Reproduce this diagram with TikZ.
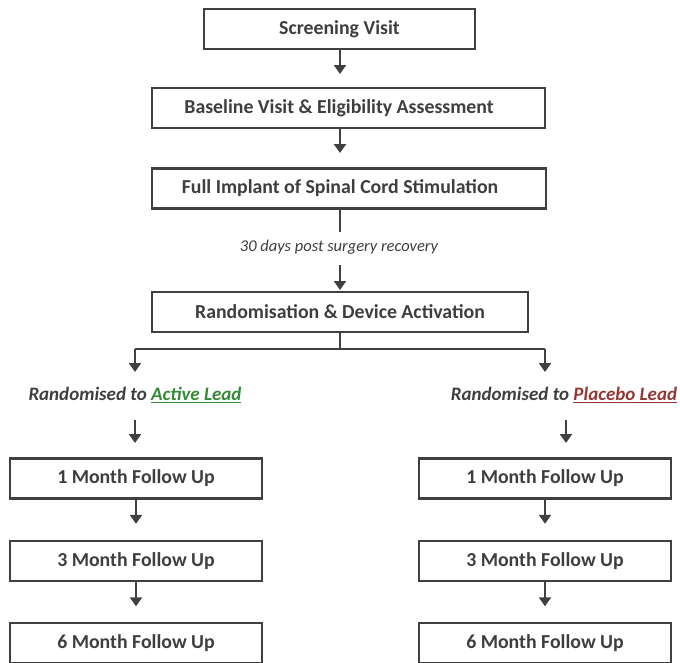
\documentclass[tikz,border=0pt]{standalone}
\usepackage{fontspec}
\setmainfont{Carlito}
\usetikzlibrary{arrows.meta}
\definecolor{ink}{RGB}{64,64,64}
\definecolor{txt}{RGB}{62,62,62}
\definecolor{activegreen}{RGB}{52,138,52}
\definecolor{placebored}{RGB}{148,54,52}
\tikzset{
  x=1pt, y=-1pt,
  stagebox/.style={draw=ink, line width=2.6pt, minimum height=40pt, inner sep=0pt,
    font=\fontsize{19.8}{22}\selectfont\bfseries, text=txt},
  armlabel/.style={inner sep=0pt, font=\fontsize{19}{21}\selectfont\bfseries\itshape, text=txt},
  notelabel/.style={inner sep=0pt, font=\fontsize{16.5}{18}\selectfont\itshape, text=txt},
  flow/.style={draw=ink, line width=2.6pt, -{Triangle[width=12pt,length=9pt]}},
  link/.style={draw=ink, line width=2.6pt}
}
\begin{document}
\begin{tikzpicture}
\useasboundingbox (0,0) rectangle (680,662);
% main column
\node[stagebox, minimum width=271pt] (scr) at (339.5,29) {Screening Visit};
\node[stagebox, minimum width=393pt] (base) at (348.5,108) {\hspace*{-19pt}Baseline Visit \& Eligibility Assessment};
\node[stagebox, minimum width=394pt] (impl) at (349,188.5) {\hspace*{-18pt}Full Implant of Spinal Cord Stimulation};
\node[notelabel] (note) at (339,247) {30 days post surgery recovery};
\node[stagebox, minimum width=376pt] (rand) at (340,312) {Randomisation \& Device Activation};
% arm labels
\node[armlabel] (lact) at (135,395) {Randomised to \textcolor{activegreen}{\underline{Active Lead}}};
\node[armlabel] (lpla) at (564,395) {Randomised to \textcolor{placebored}{\underline{Placebo Lead}}};
% left arm
\node[stagebox, minimum width=252pt] (l1) at (136,478.5) {1 Month Follow Up};
\node[stagebox, minimum width=252pt] (l3) at (136,561) {3 Month Follow Up};
\node[stagebox, minimum width=252pt] (l6) at (136,643) {6 Month Follow Up};
% right arm
\node[stagebox, minimum width=252pt] (r1) at (545,478.5) {1 Month Follow Up};
\node[stagebox, minimum width=252pt] (r3) at (545,561) {3 Month Follow Up};
\node[stagebox, minimum width=252pt] (r6) at (545,643) {6 Month Follow Up};
% helper coordinates
\coordinate (s1) at (340,49);   \coordinate (t1) at (340,74);
\coordinate (s2) at (340,128);  \coordinate (t2) at (340,153);
\coordinate (s3) at (340,209);  \coordinate (a1) at (340,232);
\coordinate (a2) at (340,265);  \coordinate (t4) at (340,290);
\coordinate (split) at (340,349);
\coordinate (lsplit) at (135,349);
\coordinate (rsplit) at (545,349);
\coordinate (ltip) at (135,372);
\coordinate (rtip) at (545,372);
\coordinate (lq0) at (135,420); \coordinate (lq1) at (135,443);
\coordinate (rq0) at (566,420); \coordinate (rq1) at (566,443);
% connectors
\draw[flow] (s1) -- (t1);
\draw[flow] (s2) -- (t2);
\draw[link] (s3) -- (a1);
\draw[flow] (a2) -- (t4);
\draw[link] (rand.south) -- (split);
\draw[link] (lsplit) -- (rsplit);
\draw[flow] (lsplit) -- (ltip);
\draw[flow] (rsplit) -- (rtip);
\draw[flow] (lq0) -- (lq1);
\draw[flow] (rq0) -- (rq1);
\draw[flow] (l1.south) -- ++(0,24);
\draw[flow] (l3.south) -- ++(0,24);
\draw[flow] (r1.south) -- ++(0,24);
\draw[flow] (r3.south) -- ++(0,24);
\end{tikzpicture}
\end{document}
